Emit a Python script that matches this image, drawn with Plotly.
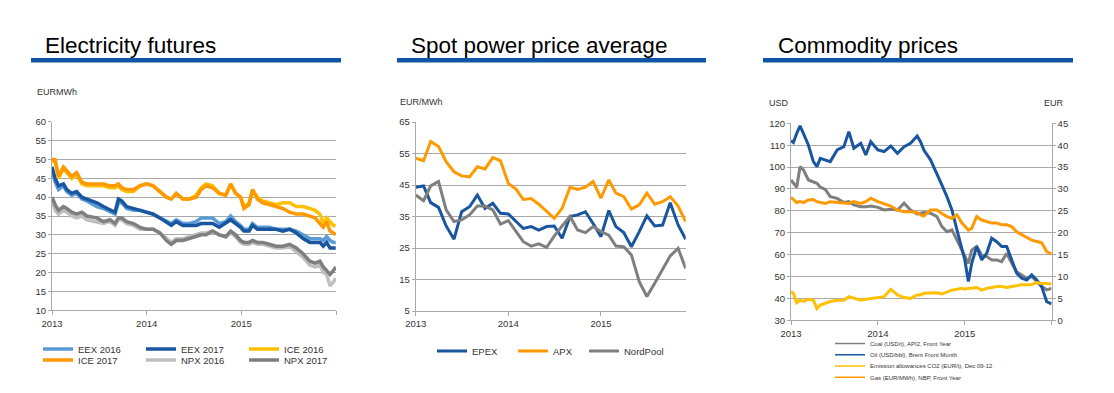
import plotly.graph_objects as go
import pandas as pd

W, H = 1114, 393
# The page places the figure 8px in from the top-left corner (body margin),
# so layout positions measured on the screen are shifted by this offset.
OX, OY = 8, 8
FONT = "Liberation Sans, Arial, sans-serif"

# ---------------- Electricity futures (EUR/MWh) ----------------
fut_dates = [
    "2013-01-01", "2013-01-13", "2013-01-26", "2013-02-14", "2013-02-27", "2013-03-18", "2013-04-06", "2013-04-26", "2013-05-15", "2013-06-23",
    "2013-07-18", "2013-08-13", "2013-09-01", "2013-09-14", "2013-09-27", "2013-10-16", "2013-11-11", "2013-12-06", "2014-01-01", "2014-01-26",
    "2014-02-21", "2014-03-18", "2014-04-06", "2014-04-25", "2014-05-21", "2014-06-15", "2014-07-11", "2014-07-30", "2014-08-18", "2014-09-12",
    "2014-10-08", "2014-11-02", "2014-11-21", "2014-12-10", "2014-12-29", "2015-01-11", "2015-01-31", "2015-02-13", "2015-03-04", "2015-03-24",
    "2015-04-19", "2015-05-15", "2015-06-10", "2015-07-06", "2015-08-01", "2015-08-27", "2015-09-22", "2015-10-12", "2015-10-31", "2015-11-13",
    "2015-11-26", "2015-12-09", "2015-12-22", "2015-12-31",
]
eex_2016 = [47.5, 44, 42, 43, 41.5, 40.5, 41, 39.5, 39, 37.5,
            37, 36, 35.5, 38.5, 38.5, 37, 36.5, 36.5, 36, 35.5,
            34.5, 33.5, 33, 34, 33, 33, 33.5, 34.5, 34.5, 34.5,
            33, 33.5, 35, 33.5, 32.5, 31.5, 31.5, 33, 32, 32,
            32, 31.5, 31.5, 31.5, 31, 30, 29, 29, 29, 28.5,
            29.5, 28.5, 28, 28]
eex_2017 = [48, 45, 43, 43.5, 42, 41, 41.5, 40, 39.5, 38.5,
            37.5, 36.5, 36, 39.5, 39, 37.5, 37, 36.5, 36, 35.5,
            34.5, 33.5, 32.5, 33.5, 32.5, 32.5, 32.5, 33, 33, 33,
            32, 33, 34, 33, 32, 31, 31, 32.5, 31.5, 31.5,
            31.5, 31.5, 31, 31.5, 30.5, 29, 28, 28, 28, 27,
            28, 26.5, 26.5, 26.5]
ice_2016 = [49.5, 49.5, 45, 47.5, 46.5, 45, 46, 43.5, 43, 43,
            43, 42.5, 42.5, 43, 42, 41.5, 41.5, 43, 43.5, 43,
            41.5, 40, 39.5, 41, 39.5, 39.5, 40.5, 42.5, 43.5, 43,
            41, 40.5, 43.5, 41, 40, 37.5, 38.5, 42, 40, 39,
            38.5, 38, 38.5, 38.5, 37.5, 37.5, 37, 36.5, 35.5, 33,
            34.5, 33.5, 32.5, 32.5]
ice_2017 = [50, 50, 45.5, 48, 47, 45.5, 46.5, 44, 43.5, 43.5,
            43.5, 43, 43, 43.5, 42.5, 42, 42, 43, 43.5, 43,
            41.5, 40, 39.5, 41, 39.5, 39.5, 40, 42, 43, 42.5,
            41, 40.5, 43.5, 41, 40, 37, 38, 42, 39.5, 38.5,
            38, 37.5, 37, 36, 35.5, 35.5, 35, 34.5, 33, 32,
            33.5, 31, 30.5, 30]
npx_2016 = [39, 36.5, 35.5, 36.5, 36, 35, 34.5, 35, 34, 33.5,
            33, 33.5, 32.5, 34, 34, 33, 32.5, 31.5, 31.5, 31.5,
            30.5, 29, 28, 29, 29, 29.5, 30, 30.5, 30.5, 31,
            30, 29.5, 30.5, 29.5, 28, 27.5, 27.5, 28, 27.5, 27.5,
            27, 26.5, 26.5, 27, 25.5, 24, 22, 21.5, 22, 20,
            19.5, 16.5, 17.5, 18.5]
npx_2017 = [40, 38, 36.5, 37.5, 37, 36, 35.5, 36, 35, 34.5,
            33.5, 34, 33, 34.5, 34.5, 33.5, 33, 32, 31.5, 31.5,
            30.5, 28.5, 27.5, 28.5, 28.5, 29, 29.5, 30, 30, 31,
            30, 29.5, 31, 30, 28.5, 28, 28, 28.5, 28, 28,
            27.5, 27, 27, 27.5, 26.5, 25, 23, 22.5, 23, 21.5,
            20.5, 19.5, 20.5, 21.5]

# ---------------- Spot power price average (EUR/MWh, monthly) ----------------
spot_months = pd.date_range("2013-01-01", periods=36, freq="MS")
epex = [44.3, 44.7, 39.4, 37.9, 32.0, 27.8, 36.5, 38.1, 41.8, 37.6, 39.2, 36.0,
        35.8, 33.4, 31.2, 31.8, 30.7, 31.8, 32.0, 28.1, 35.0, 35.5, 36.5, 32.8,
        28.6, 36.9, 31.8, 29.9, 25.4, 30.2, 35.2, 32.0, 32.3, 39.4, 32.3, 27.8]
apx = [53.5, 52.7, 58.8, 57.2, 52.4, 49.2, 47.9, 47.6, 50.8, 50.1, 53.7, 52.7,
       45.5, 43.6, 40.4, 40.7, 38.9, 36.7, 34.4, 37.6, 44.3, 43.6, 44.3, 46.1,
       40.8, 46.6, 42.4, 41.3, 37.4, 38.7, 42.4, 38.9, 39.7, 41.3, 38.3, 33.4]
nordpool = [41.8, 40.0, 44.7, 46.1, 37.1, 33.4, 33.9, 35.5, 38.3, 38.3, 37.1, 32.6,
            33.7, 30.2, 27.0, 25.6, 26.3, 25.2, 28.8, 32.0, 35.0, 30.7, 29.9, 31.8,
            30.2, 29.1, 25.6, 25.4, 22.8, 14.3, 9.6, 13.8, 18.0, 22.5, 24.9, 18.5]

# ---------------- Commodity prices ----------------
com_dates = [
    "2013-01-01", "2013-01-11", "2013-01-25", "2013-02-08", "2013-02-22", "2013-03-15", "2013-04-05", "2013-04-20", "2013-05-04", "2013-05-25",
    "2013-06-15", "2013-07-14", "2013-08-11", "2013-09-01", "2013-09-22", "2013-10-21", "2013-11-11", "2013-12-02", "2014-01-01", "2014-01-27",
    "2014-02-24", "2014-03-24", "2014-04-21", "2014-05-18", "2014-06-15", "2014-06-29", "2014-07-13", "2014-08-10", "2014-09-06", "2014-09-27",
    "2014-10-18", "2014-11-08", "2014-11-29", "2014-12-20", "2015-01-01", "2015-01-16", "2015-01-30", "2015-02-20", "2015-03-13", "2015-04-03",
    "2015-04-24", "2015-05-15", "2015-06-05", "2015-06-26", "2015-07-17", "2015-08-07", "2015-08-28", "2015-09-18", "2015-10-09", "2015-10-30",
    "2015-11-20", "2015-12-11", "2015-12-31",
]
coal_usd = [94.1, 92.6, 90.8, 100.2, 98.7, 94.1, 93.4, 92.6, 90.8, 89.8,
            86.5, 85.7, 83.8, 84.2, 82.7, 81.9, 81.9, 82.2, 81.6, 80.4,
            80.7, 80.4, 83.5, 80.4, 78.6, 78.9, 79.2, 78.9, 77.4, 72.8,
            70.5, 71.3, 66.7, 62.1, 59.1, 56.0, 62.1, 63.7, 59.8, 59.1,
            57.6, 57.6, 56.8, 60.6, 56.0, 52.2, 50.7, 49.2, 50.0, 47.7,
            45.4, 43.9, 44.6]
oil_usd = [112.1, 111.2, 115.4, 118.8, 115.4, 110.1, 102.5, 100.2, 104.0, 103.3,
           102.5, 107.8, 109.3, 116.2, 108.6, 110.9, 105.5, 111.6, 107.8, 107.1,
           109.6, 106.3, 109.3, 110.9, 114.2, 111.6, 107.8, 103.3, 97.2, 91.8,
           86.5, 80.4, 71.3, 62.1, 57.6, 47.7, 56.0, 63.7, 57.6, 60.6,
           67.5, 65.9, 63.7, 63.7, 57.6, 51.5, 49.2, 48.4, 50.7, 48.4,
           45.4, 38.5, 37.5]
co2_eur = [6.5, 6.2, 4.0, 4.6, 4.3, 4.8, 4.6, 2.7, 3.5, 3.9,
           4.3, 4.6, 4.6, 5.4, 5.0, 4.6, 4.8, 5.0, 5.2, 5.4,
           7.1, 5.8, 5.2, 5.0, 5.8, 5.8, 6.2, 6.2, 6.3, 6.0,
           6.5, 6.9, 7.1, 7.3, 7.1, 7.3, 7.3, 7.5, 6.9, 7.3,
           7.5, 7.7, 7.7, 7.5, 7.7, 7.9, 8.1, 8.1, 8.2, 8.6,
           8.4, 8.4, 8.3]
gas_eur = [28.1, 27.6, 26.9, 27.1, 26.9, 27.5, 27.6, 27.1, 26.9, 26.7,
           27.1, 26.9, 26.7, 26.7, 27.1, 26.7, 27.1, 27.9, 27.1, 26.7,
           26.1, 25.2, 24.8, 24.8, 24.6, 24.1, 23.8, 25.2, 25.2, 24.4,
           23.7, 23.3, 24.1, 22.2, 21.4, 20.6, 21.0, 23.7, 22.9, 22.5,
           22.2, 22.2, 21.8, 21.8, 21.4, 20.2, 19.5, 19.0, 18.3, 18.0,
           17.7, 15.7, 15.1]

year_ticks = ["2013-01-01", "2014-01-01", "2015-01-01", "2016-01-01"]
year_labels = ["2013", "2014", "2015", ""]

C_LBLUE = "#5B9BD5"
C_DBLUE = "#1A56A0"
C_YELLOW = "#FFC000"
C_ORANGE = "#FF9900"
C_LGREY = "#BFBFBF"
C_DGREY = "#7F7F7F"
GRID = "#A9A9A9"
TXT = "#333333"


def px(x):
    return (x - OX) / W


def py(y):
    return 1 - (y - OY) / H


fig = go.Figure()

# Left panel traces
left_series = [
    ("EEX 2016", eex_2016, C_LBLUE, "legend"),
    ("EEX 2017", eex_2017, C_DBLUE, "legend"),
    ("ICE 2016", ice_2016, C_YELLOW, "legend"),
    ("ICE 2017", ice_2017, C_ORANGE, "legend2"),
    ("NPX 2016", npx_2016, C_LGREY, "legend2"),
    ("NPX 2017", npx_2017, C_DGREY, "legend2"),
]
for name, vals, col, lg in left_series:
    fig.add_trace(go.Scatter(x=fut_dates, y=vals, name=name, mode="lines",
                             line=dict(color=col, width=3.5), legend=lg,
                             xaxis="x", yaxis="y"))

# Middle panel traces
mid_series = [
    ("EPEX", epex, C_DBLUE, "legend3"),
    ("APX", apx, C_ORANGE, "legend4"),
    ("NordPool", nordpool, C_DGREY, "legend5"),
]
for name, vals, col, lg in mid_series:
    fig.add_trace(go.Scatter(x=spot_months, y=vals, name=name, mode="lines",
                             line=dict(color=col, width=3), legend=lg,
                             xaxis="x2", yaxis="y2"))

# Right panel traces
fig.add_trace(go.Scatter(x=com_dates, y=gas_eur, mode="lines", showlegend=False,
                         line=dict(color=C_ORANGE, width=3), xaxis="x3", yaxis="y4"))
fig.add_trace(go.Scatter(x=com_dates, y=co2_eur, mode="lines", showlegend=False,
                         line=dict(color=C_YELLOW, width=3), xaxis="x3", yaxis="y4"))
fig.add_trace(go.Scatter(x=com_dates, y=coal_usd, mode="lines", showlegend=False,
                         line=dict(color=C_DGREY, width=3), xaxis="x3", yaxis="y3"))
fig.add_trace(go.Scatter(x=com_dates, y=oil_usd, mode="lines", showlegend=False,
                         line=dict(color=C_DBLUE, width=3), xaxis="x3", yaxis="y3"))

right_legend = [
    ("Coal (USD/t), API2, Front Year", C_DGREY, "legend6"),
    ("Oil (USD/bbl), Brent Front Month", C_DBLUE, "legend7"),
    ("Emission allowances CO2 (EUR/t), Dec 09-12", C_YELLOW, "legend8"),
    ("Gas (EUR/MWh), NBP, Front Year", C_ORANGE, "legend9"),
]
for name, col, lg in right_legend:
    fig.add_trace(go.Scatter(x=[None], y=[None], name=name, mode="lines",
                             line=dict(color=col, width=1.5), legend=lg,
                             xaxis="x3", yaxis="y3"))

tickfont = dict(family=FONT, size=9.5, color=TXT)


def xax(domain, rng, anchor):
    return dict(domain=domain, range=rng, anchor=anchor, type="date",
                showgrid=False, showline=True, linecolor=GRID, linewidth=1,
                ticks="outside", ticklen=4, tickcolor=GRID,
                tickmode="array", tickvals=year_ticks, ticktext=year_labels,
                tickfont=tickfont, zeroline=False, fixedrange=True,
                automargin=False)


def yax(domain, rng, dtick, anchor, **kw):
    d = dict(domain=domain, range=rng, anchor=anchor, dtick=dtick, tick0=rng[0],
             showgrid=True, gridcolor=GRID, gridwidth=1, showline=True,
             linecolor=GRID, linewidth=1, ticks="outside", ticklen=3,
             tickcolor=GRID, tickfont=tickfont, zeroline=False, fixedrange=True,
             automargin=False)
    d.update(kw)
    return d


layout = dict(
    width=W, height=H, autosize=False,
    margin=dict(l=0, r=0, t=0, b=0, pad=0, autoexpand=False),
    paper_bgcolor="white", plot_bgcolor="white",
    font=dict(family=FONT, color=TXT),
    xaxis=xax([px(52), px(336)], ["2013-01-01", "2016-01-01"], "y"),
    yaxis=yax([py(310.3), py(121.7)], [10, 60], 5, "x"),
    xaxis2=xax([px(415.7), px(685.7)], ["2013-01-01", "2015-12-01"], "y2"),
    yaxis2=yax([py(311), py(122)], [5, 65], 10, "x2"),
    xaxis3=xax([px(791), px(1051.7)], ["2013-01-01", "2016-01-01"], "y3"),
    yaxis3=yax([py(320.3), py(123.3)], [30, 120], 10, "x3"),
    yaxis4=yax([py(320.3), py(123.3)], [0, 45], 5, "x3", overlaying="y3",
               side="right", showgrid=False),
)


def leg(x, y, size=9.5, **kw):
    d = dict(x=px(x), y=py(y), xanchor="left", yanchor="middle",
             orientation="h", bgcolor="rgba(0,0,0,0)", borderwidth=0,
             font=dict(family=FONT, size=size, color=TXT),
             itemclick=False, itemdoubleclick=False)
    d.update(kw)
    return d


layout["legend"] = leg(38, 349, entrywidth=58, entrywidthmode="pixels")
layout["legend2"] = leg(38, 360, entrywidth=58, entrywidthmode="pixels")
layout["legend3"] = leg(432, 351)
layout["legend4"] = leg(513, 351)
layout["legend5"] = leg(584, 351)
layout["legend6"] = leg(830, 343.5, size=6)
layout["legend7"] = leg(830, 354.7, size=6)
layout["legend8"] = leg(830, 366, size=6)
layout["legend9"] = leg(830, 377.3, size=6)

fig.update_layout(**layout)

# Panel titles, underline bars and unit labels
titles = [("Electricity futures", 43, 31, 341),
          ("Spot power price average", 409, 397, 706),
          ("Commodity prices", 776, 763, 1073)]
for text, tx, bx0, bx1 in titles:
    fig.add_annotation(text=text, x=px(tx), y=py(45), xref="paper", yref="paper",
                       xanchor="left", yanchor="middle", showarrow=False,
                       font=dict(family=FONT, size=22.5, color="#000000"))
    fig.add_shape(type="rect", xref="paper", yref="paper",
                  x0=px(bx0), x1=px(bx1), y0=py(62.5), y1=py(58),
                  fillcolor="#1156A6", line=dict(width=0))

units = [("EURMWh", 35, 91.7), ("EUR/MWh", 398, 101.7),
         ("USD", 767, 103.3), ("EUR", 1042, 103.3)]
for text, ux, uy in units:
    fig.add_annotation(text=text, x=px(ux), y=py(uy), xref="paper", yref="paper",
                       xanchor="left", yanchor="middle", showarrow=False,
                       font=dict(family=FONT, size=9, color=TXT))

fig.write_html("out.html")
